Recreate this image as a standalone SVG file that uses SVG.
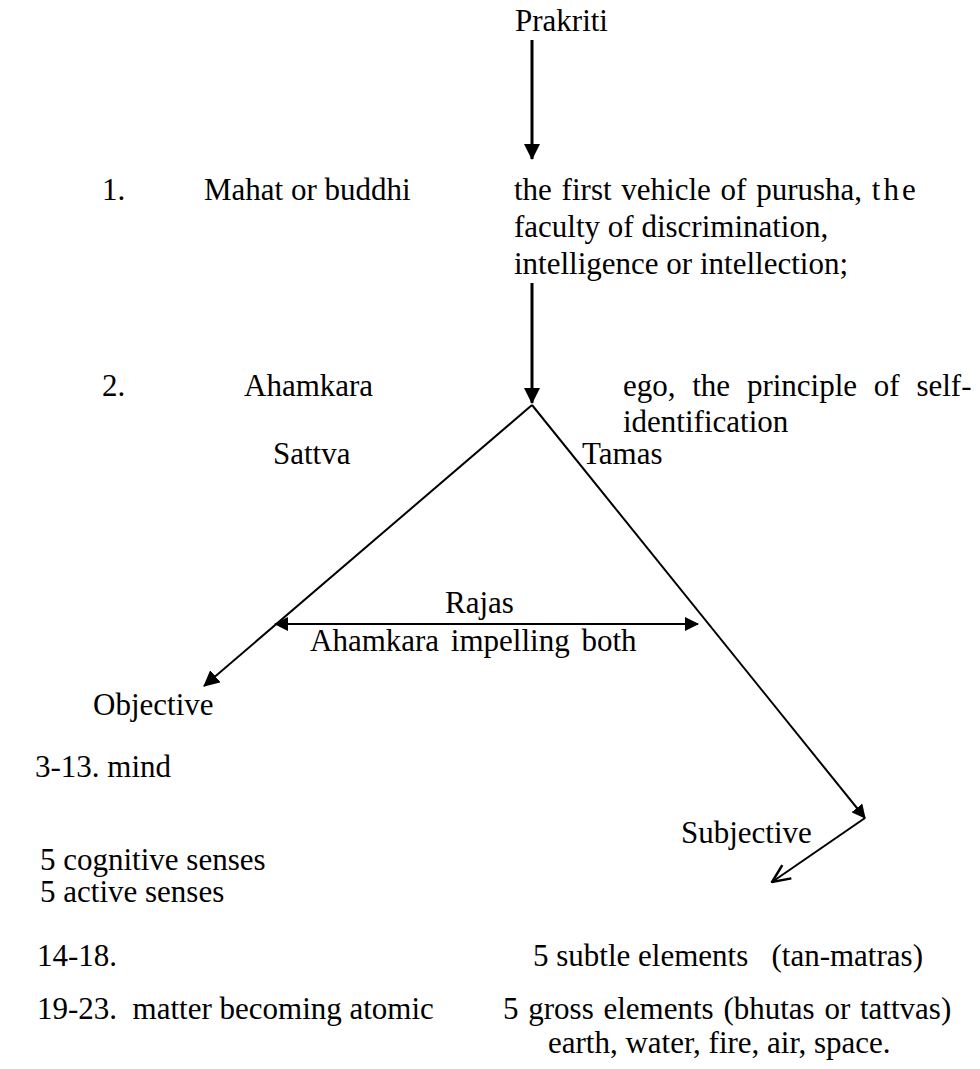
<svg xmlns="http://www.w3.org/2000/svg" width="980" height="1069" viewBox="0 0 980 1069">
<style>
text{font-family:"Liberation Serif","Times New Roman",serif;font-size:31px;fill:#000}
.thick{stroke:#000;stroke-width:3;fill:none}
.thin{stroke:#000;stroke-width:2;fill:none}
</style>
<defs>
<marker id="ah" viewBox="0 0 16 16" refX="15" refY="8" markerWidth="16" markerHeight="16" markerUnits="userSpaceOnUse" orient="auto-start-reverse"><path d="M0,0 L16,8 L0,16 Z" fill="#000"/></marker>
<marker id="ahs" viewBox="0 0 14 14" refX="13" refY="7" markerWidth="14" markerHeight="14" markerUnits="userSpaceOnUse" orient="auto-start-reverse"><path d="M0,0 L14,7 L0,14 Z" fill="#000"/></marker>
<marker id="open" viewBox="0 0 20 20" refX="19" refY="10" markerWidth="20" markerHeight="20" markerUnits="userSpaceOnUse" orient="auto"><path d="M1,2 L19,10 L1,18" fill="none" stroke="#000" stroke-width="2.5"/></marker>
</defs>
<rect width="980" height="1069" fill="#fff"/>
<g id="connectors">
<line class="thick" x1="532" y1="40" x2="532" y2="159" marker-end="url(#ah)"/>
<line class="thick" x1="532" y1="283" x2="532" y2="403" marker-end="url(#ah)"/>
<line class="thin" x1="532" y1="405" x2="204" y2="686" marker-end="url(#ah)"/>
<line class="thin" x1="532" y1="405" x2="865" y2="818" marker-end="url(#ahs)"/>
<line class="thin" x1="275" y1="624" x2="698" y2="624" marker-start="url(#ahs)" marker-end="url(#ahs)"/>
<line class="thin" x1="865" y1="818" x2="772" y2="882" marker-end="url(#open)"/>
</g>
<g id="prakriti"><text x="515" y="31">Prakriti</text></g>
<g id="mahat">
<text x="102" y="200">1.</text>
<text x="204" y="200">Mahat or buddhi</text>
<text x="514" y="200" word-spacing="2">the first vehicle of purusha, <tspan letter-spacing="3">the</tspan></text>
<text x="514" y="237">faculty of discrimination,</text>
<text x="514" y="274">intelligence or intellection;</text>
</g>
<g id="ahamkara">
<text x="102" y="396">2.</text>
<text x="244" y="396">Ahamkara</text>
<text x="623" y="396" word-spacing="9">ego, the principle of self-</text>
<text x="623" y="432">identification</text>
</g>
<g id="sattva"><text x="273" y="464">Sattva</text></g>
<g id="tamas"><text x="582" y="464">Tamas</text></g>
<g id="rajas">
<text x="445" y="613">Rajas</text>
<text x="310" y="651" word-spacing="4">Ahamkara impelling both</text>
</g>
<g id="objective">
<text x="93" y="715">Objective</text>
<text x="35" y="777">3-13. mind</text>
<text x="40" y="870">5 cognitive senses</text>
<text x="40" y="902">5 active senses</text>
</g>
<g id="subjective"><text x="681" y="843">Subjective</text></g>
<g id="elements">
<text x="37" y="966">14-18.</text>
<text x="533" y="966" xml:space="preserve">5 subtle elements   (tan-matras)</text>
<text x="37" y="1019" xml:space="preserve">19-23.  matter becoming atomic</text>
<text x="503" y="1019" word-spacing="2">5 gross elements (bhutas or tattvas)</text>
<text x="548" y="1053">earth, water, fire, air, space.</text>
</g>
</svg>
